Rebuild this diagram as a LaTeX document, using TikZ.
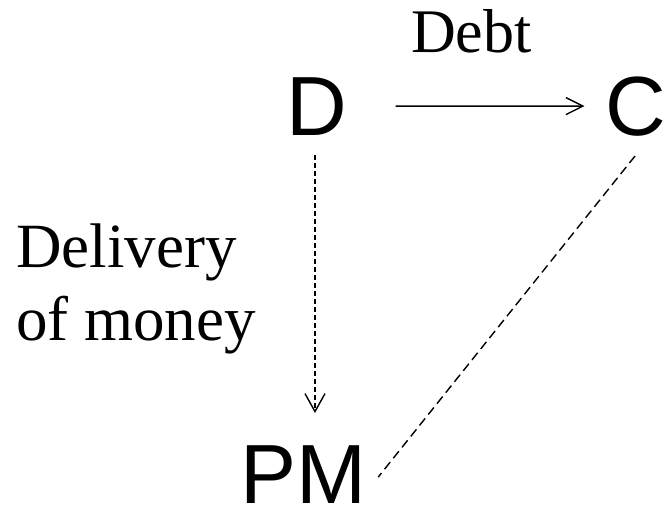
\documentclass[tikz,border=0pt]{standalone}
\usepackage{fontspec}
\setmainfont{Liberation Serif}
\newfontfamily\arialfont{Liberation Sans}
\usetikzlibrary{arrows.meta,positioning}
\tikzset{
         party/.style={inner sep=0pt,anchor=base,font=\arialfont\fontsize{84}{84}\selectfont},
         label/.style={inner sep=0pt,anchor=base west,font=\fontsize{63}{73}\selectfont},
         flow/.style={line width=1.4pt,-{Straight Barb[length=17pt,width=17pt,line width=1.4pt]}}
        }
\begin{document}
\begin{tikzpicture}[x=1pt,y=-1pt]
\useasboundingbox (0,0) rectangle (664,506); % page box

\node[party] (D) at (317,135) {D}; % debtor
\node[party] (C) at (636,135) {C}; % creditor
\node[party] (PM) at (303,503) {PM}; % payment medium
\node[label,font=\fontsize{62}{62}\selectfont] (debt) at (411,52) {Debt}; % Debt label
\node[label] (deliv) at (16,267) {Delivery}; % Delivery label
\node[label] (money) at (16,340) {of money}; % of money label

\draw[flow,shorten <=48pt,shorten >=21pt] (D) -- (C); % debt arrow
\draw[flow,dash pattern=on 5pt off 3pt,-{Straight Barb[length=18pt,width=20pt,line width=1.4pt]},shorten <=20pt,shorten >=32pt]
  ([xshift=-2pt]D.south) -- ([xshift=-2pt]D.south |- PM.north); % delivery arrow
\draw[line width=1.4pt,dash pattern=on 9pt off 5pt] ([shift={(-1,20)}]C.south) -- ([shift={(12,3)}]PM.east); % C to PM
\end{tikzpicture}
\end{document}
